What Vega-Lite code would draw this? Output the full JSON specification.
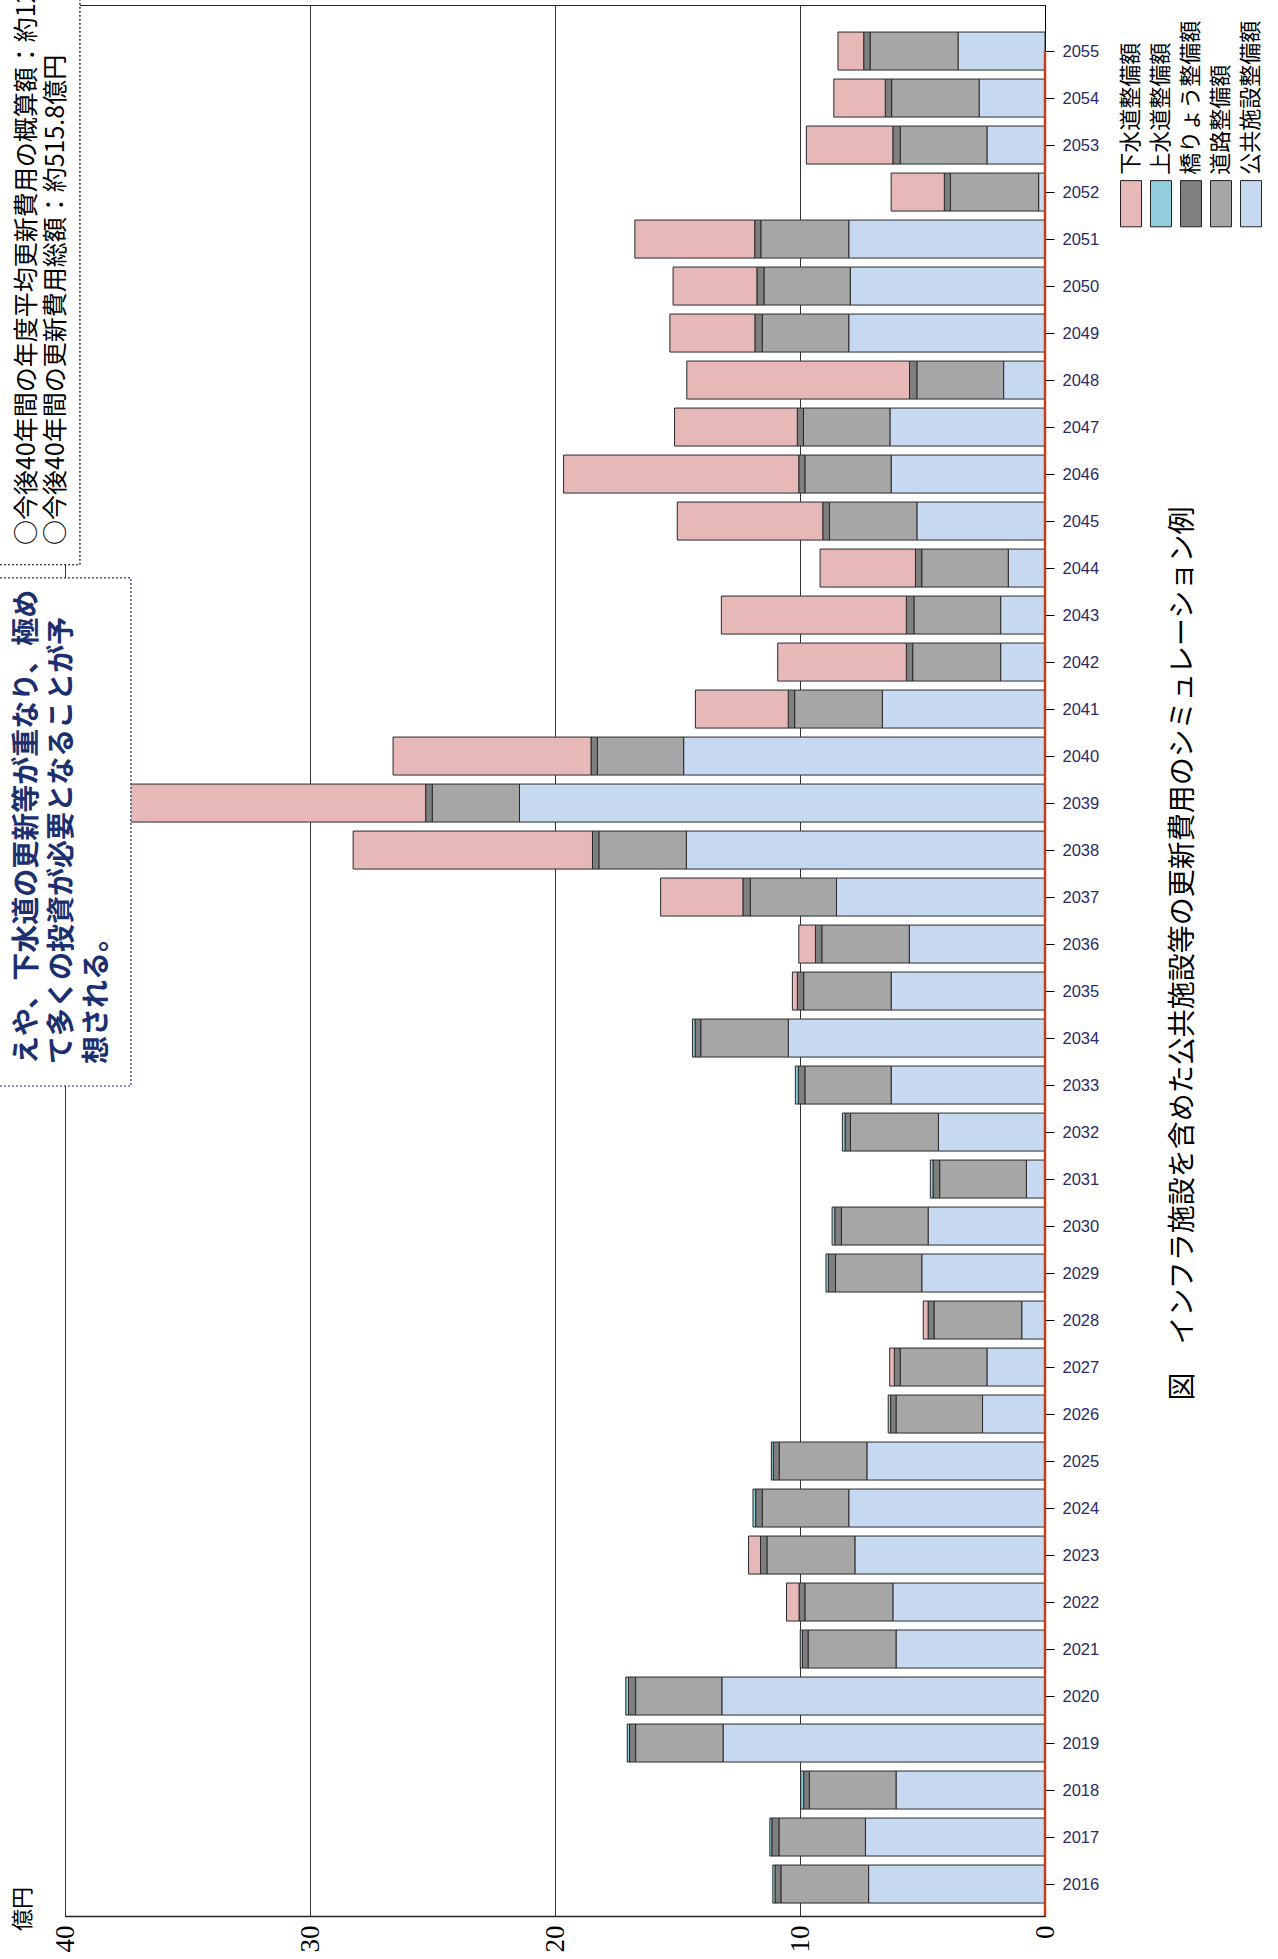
{
  "$schema": "https://vega.github.io/schema/vega-lite/v6.json",
  "autosize": {"type": "none"},
  "width": 980,
  "height": 1911,
  "padding": {"left": 65, "top": 5, "right": 233, "bottom": 43},
  "background": "white",
  "title": {
    "text": "図　インフラ施設を含めた公共施設等の更新費用のシミュレーション例",
    "orient": "right",
    "frame": "group",
    "angle": -90,
    "baseline": "top",
    "anchor": "middle",
    "font": "Noto Sans CJK JP",
    "fontSize": 28,
    "fontWeight": "normal",
    "color": "#000000",
    "offset": -122,
    "dx": 7
  },
  "data": {
    "values": [
      {"year": 2055, "公共施設整備額": 3.55, "道路整備額": 3.59, "橋りょう整備額": 0.26, "上水道整備額": 0, "下水道整備額": 1.05},
      {"year": 2054, "公共施設整備額": 2.69, "道路整備額": 3.57, "橋りょう整備額": 0.26, "上水道整備額": 0, "下水道整備額": 2.10},
      {"year": 2053, "公共施設整備額": 2.37, "道路整備額": 3.54, "橋りょう整備額": 0.30, "上水道整備額": 0, "下水道整備額": 3.53},
      {"year": 2052, "公共施設整備額": 0.26, "道路整備額": 3.60, "橋りょう整備額": 0.25, "上水道整備額": 0, "下水道整備額": 2.17},
      {"year": 2051, "公共施設整備額": 8.01, "道路整備額": 3.59, "橋りょう整備額": 0.25, "上水道整備額": 0, "下水道整備額": 4.89},
      {"year": 2050, "公共施設整備額": 7.95, "道路整備額": 3.52, "橋りょう整備額": 0.29, "上水道整備額": 0, "下水道整備額": 3.42},
      {"year": 2049, "公共施設整備額": 8.01, "道路整備額": 3.53, "橋りょう整備額": 0.30, "上水道整備額": 0, "下水道整備額": 3.47},
      {"year": 2048, "公共施設整備額": 1.69, "道路整備額": 3.54, "橋りょう整備額": 0.30, "上水道整備額": 0, "下水道整備額": 9.09},
      {"year": 2047, "公共施設整備額": 6.33, "道路整備額": 3.53, "橋りょう整備額": 0.25, "上水道整備額": 0, "下水道整備額": 5.01},
      {"year": 2046, "公共施設整備額": 6.28, "道路整備額": 3.52, "橋りょう整備額": 0.25, "上水道整備額": 0, "下水道整備額": 9.60},
      {"year": 2045, "公共施設整備額": 5.23, "道路整備額": 3.57, "橋りょう整備額": 0.27, "上水道整備額": 0, "下水道整備額": 5.94},
      {"year": 2044, "公共施設整備額": 1.50, "道路整備額": 3.53, "橋りょう整備額": 0.26, "上水道整備額": 0, "下水道整備額": 3.89},
      {"year": 2043, "公共施設整備額": 1.81, "道路整備額": 3.54, "橋りょう整備額": 0.31, "上水道整備額": 0, "下水道整備額": 7.55},
      {"year": 2042, "公共施設整備額": 1.81, "道路整備額": 3.59, "橋りょう整備額": 0.26, "上水道整備額": 0, "下水道整備額": 5.25},
      {"year": 2041, "公共施設整備額": 6.64, "道路整備額": 3.58, "橋りょう整備額": 0.26, "上水道整備額": 0, "下水道整備額": 3.79},
      {"year": 2040, "公共施設整備額": 14.75, "道路整備額": 3.52, "橋りょう整備額": 0.26, "上水道整備額": 0, "下水道整備額": 8.08},
      {"year": 2039, "公共施設整備額": 21.45, "道路整備額": 3.56, "橋りょう整備額": 0.27, "上水道整備額": 0, "下水道整備額": 12.07},
      {"year": 2038, "公共施設整備額": 14.64, "道路整備額": 3.57, "橋りょう整備額": 0.26, "上水道整備額": 0, "下水道整備額": 9.77},
      {"year": 2037, "公共施設整備額": 8.51, "道路整備額": 3.52, "橋りょう整備額": 0.30, "上水道整備額": 0, "下水道整備額": 3.36},
      {"year": 2036, "公共施設整備額": 5.54, "道路整備額": 3.57, "橋りょう整備額": 0.26, "上水道整備額": 0, "下水道整備額": 0.68},
      {"year": 2035, "公共施設整備額": 6.28, "道路整備額": 3.57, "橋りょう整備額": 0.26, "上水道整備額": 0, "下水道整備額": 0.20},
      {"year": 2034, "公共施設整備額": 10.48, "道路整備額": 3.57, "橋りょう整備額": 0.23, "上水道整備額": 0.11, "下水道整備額": 0},
      {"year": 2033, "公共施設整備額": 6.28, "道路整備額": 3.52, "橋りょう整備額": 0.27, "上水道整備額": 0.12, "下水道整備額": 0},
      {"year": 2032, "公共施設整備額": 4.35, "道路整備額": 3.59, "橋りょう整備額": 0.22, "上水道整備額": 0.11, "下水道整備額": 0},
      {"year": 2031, "公共施設整備額": 0.76, "道路整備額": 3.54, "橋りょう整備額": 0.27, "上水道整備額": 0.11, "下水道整備額": 0},
      {"year": 2030, "公共施設整備額": 4.77, "道路整備額": 3.54, "橋りょう整備額": 0.27, "上水道整備額": 0.11, "下水道整備額": 0},
      {"year": 2029, "公共施設整備額": 5.03, "道路整備額": 3.52, "橋りょう整備額": 0.29, "上水道整備額": 0.10, "下水道整備額": 0},
      {"year": 2028, "公共施設整備額": 0.95, "道路整備額": 3.58, "橋りょう整備額": 0.24, "上水道整備額": 0, "下水道整備額": 0.20},
      {"year": 2027, "公共施設整備額": 2.37, "道路整備額": 3.54, "橋りょう整備額": 0.24, "上水道整備額": 0, "下水道整備額": 0.19},
      {"year": 2026, "公共施設整備額": 2.55, "道路整備額": 3.53, "橋りょう整備額": 0.22, "上水道整備額": 0.10, "下水道整備額": 0},
      {"year": 2025, "公共施設整備額": 7.27, "道路整備額": 3.58, "橋りょう整備額": 0.24, "上水道整備額": 0.08, "下水道整備額": 0},
      {"year": 2024, "公共施設整備額": 8.01, "道路整備額": 3.53, "橋りょう整備額": 0.27, "上水道整備額": 0.11, "下水道整備額": 0},
      {"year": 2023, "公共施設整備額": 7.76, "道路整備額": 3.59, "橋りょう整備額": 0.26, "上水道整備額": 0, "下水道整備額": 0.49},
      {"year": 2022, "公共施設整備額": 6.21, "道路整備額": 3.59, "橋りょう整備額": 0.24, "上水道整備額": 0, "下水道整備額": 0.51},
      {"year": 2021, "公共施設整備額": 6.08, "道路整備額": 3.59, "橋りょう整備額": 0.23, "上水道整備額": 0.09, "下水道整備額": 0},
      {"year": 2020, "公共施設整備額": 13.19, "道路整備額": 3.52, "橋りょう整備額": 0.29, "上水道整備額": 0.11, "下水道整備額": 0},
      {"year": 2019, "公共施設整備額": 13.14, "道路整備額": 3.57, "橋りょう整備額": 0.25, "上水道整備額": 0.09, "下水道整備額": 0},
      {"year": 2018, "公共施設整備額": 6.08, "道路整備額": 3.54, "橋りょう整備額": 0.23, "上水道整備額": 0.12, "下水道整備額": 0},
      {"year": 2017, "公共施設整備額": 7.33, "道路整備額": 3.53, "橋りょう整備額": 0.29, "上水道整備額": 0.08, "下水道整備額": 0},
      {"year": 2016, "公共施設整備額": 7.20, "道路整備額": 3.58, "橋りょう整備額": 0.24, "上水道整備額": 0.09, "下水道整備額": 0}
    ]
  },
  "layer": [
    {
      "transform": [
        {"fold": ["公共施設整備額", "道路整備額", "橋りょう整備額", "上水道整備額", "下水道整備額"], "as": ["series", "value"]},
        {"filter": "datum.value > 0"},
        {"calculate": "indexof(['公共施設整備額','道路整備額','橋りょう整備額','上水道整備額','下水道整備額'], datum.series)", "as": "stackorder"}
      ],
      "mark": {"type": "bar", "orient": "horizontal", "stroke": "#2a2a2a", "strokeWidth": 1},
      "encoding": {
        "y": {
          "field": "year", "type": "quantitative",
          "scale": {"domain": [2015.32, 2055.98], "nice": false, "zero": false, "padding": 0},
          "axis": {
            "orient": "right", "title": null, "grid": false, "format": "d",
            "values": [2016,2017,2018,2019,2020,2021,2022,2023,2024,2025,2026,2027,2028,2029,2030,2031,2032,2033,2034,2035,2036,2037,2038,2039,2040,2041,2042,2043,2044,2045,2046,2047,2048,2049,2050,2051,2052,2053,2054,2055],
            "labelFont": "Liberation Sans", "labelFontSize": 16.5, "labelColor": "#2a2a66",
            "tickColor": "#000000", "tickSize": 9, "labelPadding": 8,
            "domainColor": "#000000", "labelOverlap": false
          }
        },
        "x": {
          "field": "value", "type": "quantitative", "stack": "zero",
          "scale": {"domain": [0, 40], "reverse": true, "nice": false, "padding": 0},
          "axis": {
            "orient": "bottom", "title": null, "values": [0, 10, 20, 30, 40],
            "labelAngle": 270, "labelFont": "Liberation Serif", "labelFontSize": 27, "labelColor": "#000000",
            "ticks": false, "labelPadding": 9, "domainColor": "#222222", "domainWidth": 1.5,
            "grid": true, "gridColor": "#333333", "gridWidth": 1
          }
        },
        "color": {
          "field": "series", "type": "nominal",
          "scale": {
            "domain": ["下水道整備額", "上水道整備額", "橋りょう整備額", "道路整備額", "公共施設整備額"],
            "range": ["#e6b9b8", "#92cddc", "#7f7f7f", "#a6a6a6", "#c6d9f1"]
          },
          "legend": {
            "orient": "none", "legendX": 1055, "legendY": 177, "direction": "horizontal", "title": null,
            "symbolType": "M-0.5,-1.1L0.5,-1.1L0.5,1.1L-0.5,1.1Z", "symbolSize": 1764,
            "symbolStrokeColor": "#222222", "symbolStrokeWidth": 1, "symbolOpacity": 1,
            "symbolOffset": -10.5, "labelOffset": 0, "columnPadding": 4, "padding": 0,
            "labelFont": "Noto Sans CJK JP", "labelFontSize": 22, "labelColor": "#000000", "labelLimit": 400,
            "labelAlign": "left", "labelBaseline": "middle",
            "encoding": {
              "labels": {"angle": {"value": -90}, "dx": {"value": 29}, "dy": {"value": -21.5}}
            }
          }
        },
        "order": {"field": "stackorder", "type": "quantitative"}
      }
    },
    {
      "data": {"values": [{"line": "zero"}]},
      "mark": {"type": "rule", "color": "#c8401a", "strokeWidth": 2.5},
      "encoding": {
        "x": {"datum": 0},
        "y": {"datum": 2055},
        "y2": {"datum": 2015.32}
      }
    },
    {
      "data": {"values": [{"box": "summary"}]},
      "mark": {"type": "rect", "fill": "white", "stroke": "#000000", "strokeWidth": 1.2, "strokeDash": [2, 2]},
      "encoding": {
        "x": {"datum": 42.82},
        "x2": {"datum": 39.39},
        "y": {"datum": 2056.2},
        "y2": {"datum": 2044.07}
      }
    },
    {
      "data": {"values": [{"note": "○今後40年間の年度平均更新費用の概算額：約12.9億円\n○今後40年間の更新費用総額：約515.8億円"}]},
      "mark": {"type": "text", "angle": -90, "align": "left", "baseline": "top", "lineBreak": "\n", "lineHeight": 29, "font": "Noto Sans CJK JP", "fontSize": 25, "color": "#000000"},
      "encoding": {
        "x": {"datum": 42.04},
        "y": {"datum": 2044.49},
        "text": {"field": "note", "type": "nominal"}
      }
    },
    {
      "data": {"values": [{"box": "comment"}]},
      "mark": {"type": "rect", "fill": "white", "stroke": "#1c2f6e", "strokeWidth": 1.2, "strokeDash": [2, 2]},
      "encoding": {
        "x": {"datum": 42.82},
        "x2": {"datum": 37.31},
        "y": {"datum": 2043.79},
        "y2": {"datum": 2032.98}
      }
    },
    {
      "data": {"values": [{"note": "えや、下水道の更新等が重なり、極め\nて多くの投資が必要となることが予\n想される。"}]},
      "mark": {"type": "text", "angle": -90, "align": "left", "baseline": "top", "lineBreak": "\n", "lineHeight": 35, "font": "Noto Sans CJK JP", "fontSize": 28, "fontWeight": "bold", "color": "#1c2f6e"},
      "encoding": {
        "x": {"datum": 42.1},
        "y": {"datum": 2033.45},
        "text": {"field": "note", "type": "nominal"}
      }
    },
    {
      "data": {"values": [{"unit": "億円"}]},
      "mark": {"type": "text", "angle": -90, "align": "left", "baseline": "middle", "font": "Noto Sans CJK JP", "fontSize": 22, "color": "#000000"},
      "encoding": {
        "x": {"datum": 41.71},
        "y": {"datum": 2015.0},
        "text": {"field": "unit", "type": "nominal"}
      }
    }
  ],
  "config": {
    "view": {"stroke": "#222222", "strokeWidth": 1},
    "bar": {"continuousBandSize": 38}
  }
}
